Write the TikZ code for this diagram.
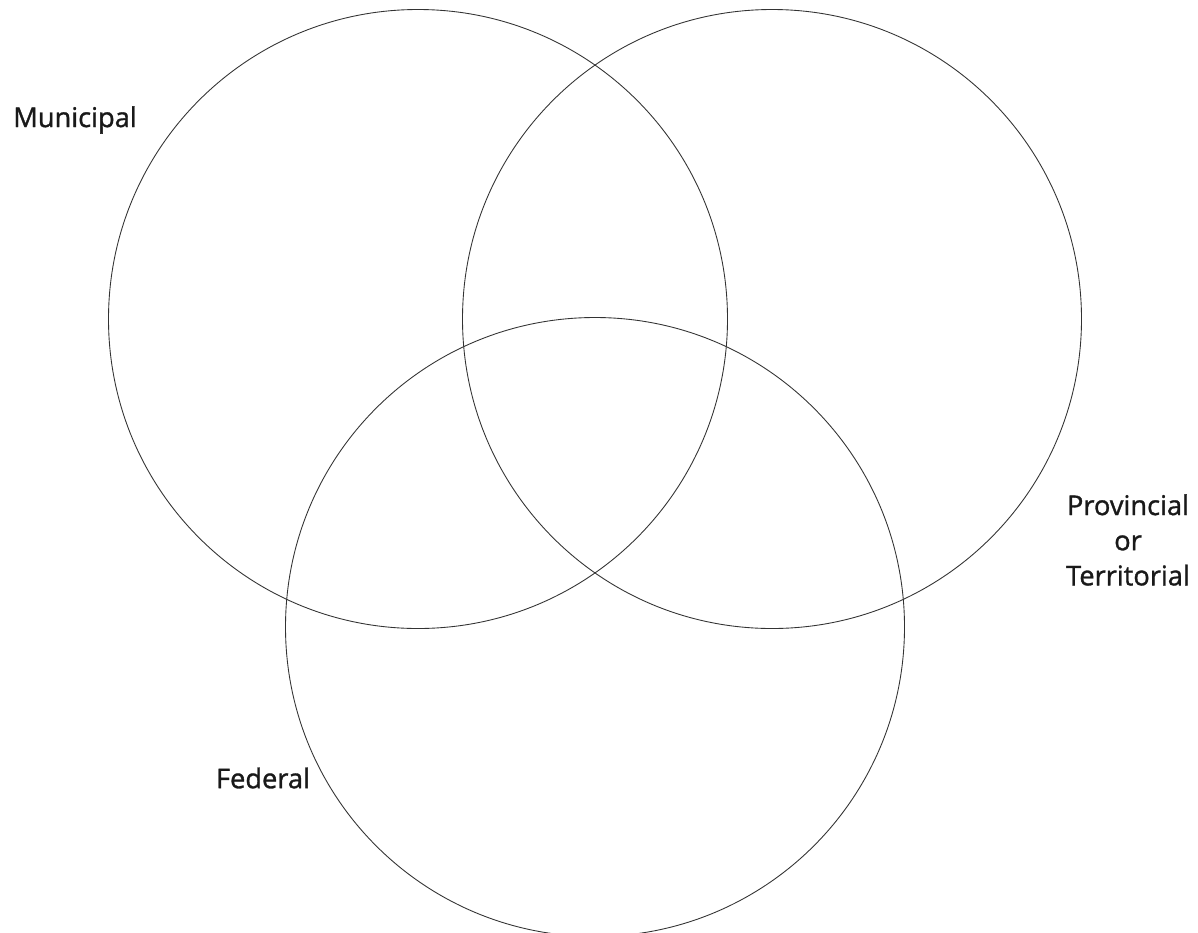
\documentclass[tikz,border=0pt]{standalone}
\usepackage{fontspec}
\setmainfont{Open Sans}
\newfontfamily\levelfont[FakeBold=1.2]{Open Sans}
\usetikzlibrary{positioning}

\begin{document}
\begin{tikzpicture}[
  venn/.style={draw=black!80, line width=0.5pt, circle, minimum size=12.38cm,
               inner sep=0pt},
  level/.style={font=\levelfont\fontsize{15.5}{20}\selectfont, text=black!90,
                align=center, inner sep=0pt}
]
  \useasboundingbox (0,0) rectangle (23.96,-18.64);
  \clip (0,0) rectangle (23.96,-18.64);

  % Three circles
  \node[venn] (municipal) at (8.36,-6.38) {};
  \node[venn] (provincial) at (15.44,-6.38) {};
  \node[venn] (federal) at (11.9,-12.54) {};

  % Labels
  \node[level] (lblmun) at (1.5,-2.4) {Municipal};
  \node[level] (lblprov) at (22.56,-10.8) {Provincial\\or\\Territorial};
  \node[level] (lblfed) at (5.26,-15.56) {Federal};
\end{tikzpicture}
\end{document}
